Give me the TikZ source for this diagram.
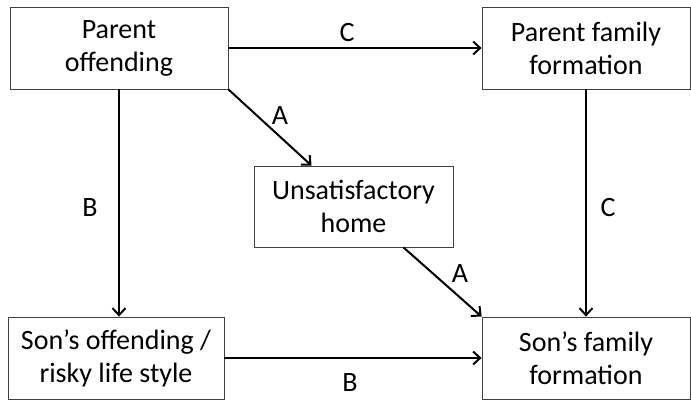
\documentclass[tikz,border=0pt]{standalone}
\usepackage{fontspec}
\setmainfont{Carlito}
\usetikzlibrary{arrows.meta,calc}
\begin{document}
\begin{tikzpicture}[x=1pt,y=-1pt,
  box/.style={draw=black!75,line width=0.8pt,align=center,inner sep=0pt,
    font=\fontsize{28}{33}\selectfont},
  conn/.style={line width=2pt,-{Straight Barb[length=7pt,width=13pt,line width=2pt]}},
  lbl/.style={font=\fontsize{28}{30}\selectfont,inner sep=0pt}]
\useasboundingbox (0,0) rectangle (691,400);
\node[box,minimum width=218pt,minimum height=82pt] (po) at (119,48) {Parent\\offending};
\node[box,minimum width=208pt,minimum height=82pt] (pf) at (586,48) {Parent family\\formation};
\node[box,minimum width=199pt,minimum height=81pt] (uh) at (353.5,206.5) {Unsatisfactory\\home};
\node[box,minimum width=216pt,minimum height=82pt] (so) at (116,358) {Son’s offending /\\risky life style};
\node[box,minimum width=208pt,minimum height=82pt] (sf) at (586,358) {Son’s family\\formation};
\draw[conn] (po.east) -- (pf.west);
\draw[conn] (po.south) -- (po.south |- so.north);
\draw[conn] (po.south east) -- ($(uh.north west)!0.29!(uh.north east)$);
\draw[conn] ($(uh.south west)!0.75!(uh.south east)$) -- (sf.north west);
\draw[conn] (pf.south) -- (sf.north);
\draw[conn] (so.east) -- (sf.west);
\node[lbl] (lc1) at (347,33) {C};
\node[lbl] (lb1) at (90,208) {B};
\node[lbl] (la1) at (280,116) {A};
\node[lbl] (la2) at (460,274) {A};
\node[lbl] (lc2) at (608,208) {C};
\node[lbl] (lb2) at (350,383) {B};
\end{tikzpicture}
\end{document}
